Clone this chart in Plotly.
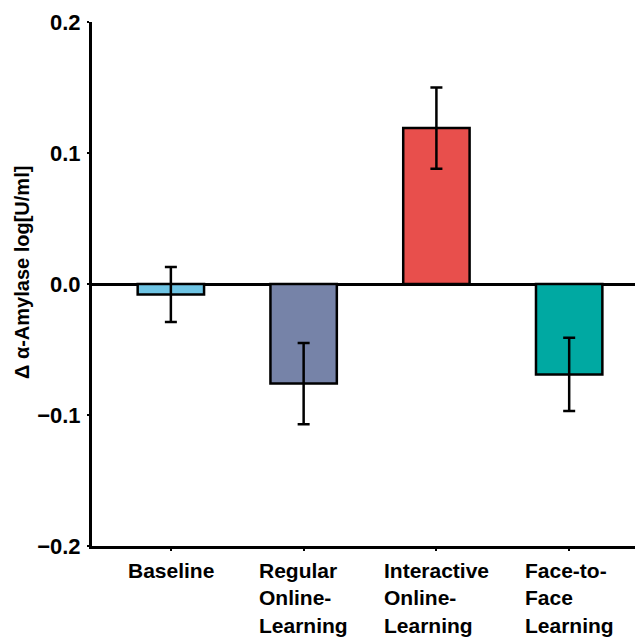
import plotly.graph_objects as go

categories = ["Baseline", "Regular Online-Learning", "Interactive Online-Learning", "Face-to-Face Learning"]
label_lines = [["Baseline"], ["Regular", "Online-", "Learning"], ["Interactive", "Online-", "Learning"], ["Face-to-", "Face", "Learning"]]
values = [-0.008, -0.076, 0.119, -0.069]
errors = [0.021, 0.031, 0.031, 0.028]
colors = ["#6EC4E4", "#7683A8", "#E84F4C", "#00A9A2"]
y_ticks = [-0.2, -0.1, 0.0, 0.1, 0.2]

FONT = "Arial, Liberation Sans, Helvetica, sans-serif"

fig = go.Figure()
fig.add_trace(go.Bar(
    x=categories, y=values, width=0.5,
    marker=dict(color=colors, line=dict(color="black", width=2.5)),
    error_y=dict(type="data", array=errors, visible=True, color="black", thickness=2.5, width=6),
    showlegend=False,
))

# page body has an 8px default margin, so the figure is sized 8px smaller
fig.update_layout(
    width=635, height=629,
    margin=dict(l=84, r=0, t=14, b=91),
    plot_bgcolor="white", paper_bgcolor="white",
    font=dict(family=FONT, color="black"),
    xaxis=dict(range=[-0.594, 3.556], showticklabels=False, automargin=False,
               ticks="outside", ticklen=2, tickwidth=1.5, tickcolor="black",
               showline=True, linecolor="black", linewidth=3, showgrid=False, zeroline=False),
    yaxis=dict(range=[-0.2, 0.2], tickvals=y_ticks, tickformat=".1f", automargin=False,
               ticks="outside", ticklen=2, tickwidth=1.5, tickcolor="black", ticklabelstandoff=2,
               tickfont=dict(size=22, family=FONT, weight="bold"),
               showline=True, linecolor="black", linewidth=3, showgrid=False,
               zeroline=True, zerolinecolor="black", zerolinewidth=3),
)

fig.add_annotation(x=-0.127, xref="paper", y=0.5, yref="paper", yshift=11,
                   text="Δ α-Amylase log[U/ml]", textangle=-90, showarrow=False,
                   xanchor="center", yanchor="middle",
                   font=dict(size=20, family=FONT, weight="bold", color="black"))

for cat, lines in zip(categories, label_lines):
    fig.add_annotation(x=cat, xref="x", y=0, yref="paper", yanchor="top", yshift=-11,
                       text="<br>".join(lines), showarrow=False, align="left", xanchor="center",
                       font=dict(size=21, family=FONT, weight="bold", color="black"))

fig.write_html("out.html")
